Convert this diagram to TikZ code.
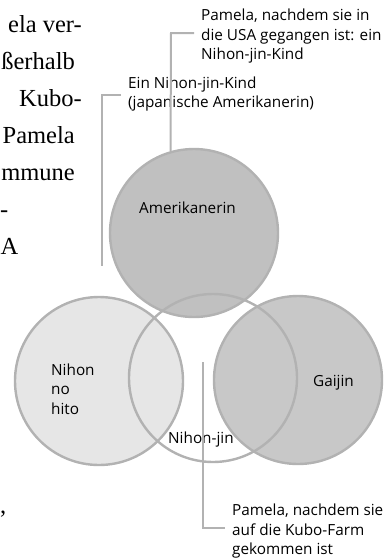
\documentclass[tikz,border=0pt]{standalone}
\usepackage{fontspec}
\setsansfont{Open Sans}
\newfontfamily\bodyfont{Liberation Serif}
\usepackage{tikz}
\definecolor{ringC}{RGB}{178, 178, 178}
\definecolor{leadC}{RGB}{178, 178, 178}
\definecolor{amerC}{RGB}{192, 192, 192}
\definecolor{gaijinC}{RGB}{200, 200, 200}
\definecolor{hitoC}{RGB}{230, 230, 230}

\begin{document}
\begin{tikzpicture}[
    x=1pt, y=-1pt,
    ring/.style={circle, draw=ringC, line width=2.4pt, minimum size=168pt, inner sep=0pt},
    lead/.style={draw=leadC, line width=2pt},
    tag/.style={font=\sffamily\fontsize{15.3}{19.5}\selectfont, inner sep=0pt},
    note/.style={tag, align=left, inner xsep=7pt, anchor=north west},
    body/.style={font=\bodyfont\fontsize{24.5}{37}\selectfont, inner sep=0pt, anchor=base east}
  ]
    \useasboundingbox (0,0) rectangle (386,558);

    % Page text beside the figure
    \node[body] (b1) at (82,32) {ela ver-};
    \node[body] (b2) at (75,69) {ßerhalb};
    \node[body] (b3) at (82,106) {Kubo-};
    \node[body] (b4) at (75,143) {Pamela};
    \node[body] (b5) at (75,180) {mmune};
    \node[body] (b6) at (8.5,217) {-};
    \node[body, anchor=base west] (b7) at (0.5,254) {A};
    \node[body] (b8) at (6.5,513) {,};

    % Circles
    \node[ring, fill=amerC] (amer) at (194,233) {};
    \node[ring, fill=hitoC] (hito) at (99,381) {};
    \node[ring, fill=gaijinC] (gaijin) at (298,380) {};
    \node[ring] (jin) at (213,378) {};

    % Circle labels
    \node[tag, anchor=base west] (amerT) at (139,213) {Amerikanerin};
    \node[tag, anchor=base west] (gaijinT) at (313,386) {Gaijin};
    \node[tag, anchor=base west] (jinT) at (168,443) {Nihon-jin};
    \node[tag, align=left, anchor=north west] (hitoT) at (51,363.4) {Nihon\\no\\hito};

    % Notes
    \node[note] (usa) at (194,8.9)
      {Pamela, nachdem sie in\\die USA gegangen ist: ein\\Nihon-jin-Kind};
    \node[note] (jpn) at (121,76.4)
      {Ein Nihon-jin-Kind\\(japanische Amerikanerin)};
    \node[note] (kubo) at (225,503.9)
      {Pamela, nachdem sie\\auf die Kubo-Farm\\gekommen ist};

    % Leader lines
    \coordinate (k1) at (171,33);
    \coordinate (k2) at (102,95);
    \coordinate (e2) at (102,266);
    \coordinate (e3) at (203,362);
    \coordinate (k3) at (203,528);
    \draw[lead] (usa.west |- k1) -- (k1) -- (amer.106);
    \draw[lead] (jpn.west |- k2) -- (k2) -- (e2);
    \draw[lead] (e3) -- (k3) -- (kubo.west |- k3);
  \end{tikzpicture}
\end{document}
